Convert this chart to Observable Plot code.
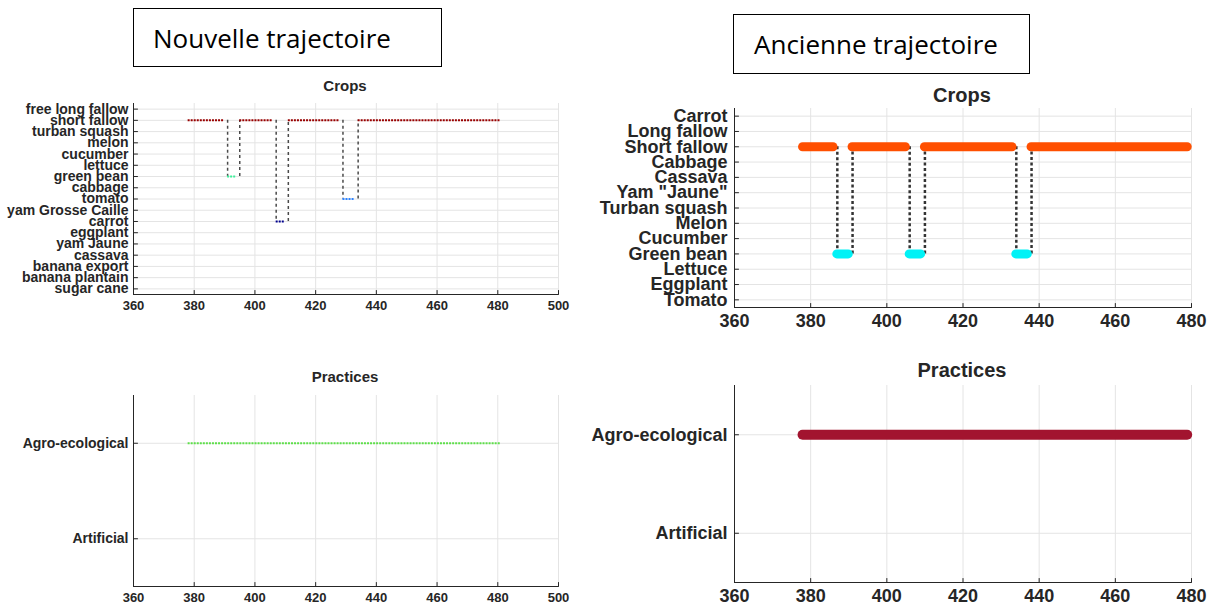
<!DOCTYPE html>
<html><head><meta charset="utf-8">
<script src="https://cdn.jsdelivr.net/npm/d3@7"></script>
<script src="https://cdn.jsdelivr.net/npm/@observablehq/plot@0.6"></script>
<style>
body{margin:0;background:#fff;}
#root{position:relative;width:1215px;height:608px;overflow:hidden;font-family:"Liberation Sans",Arial,sans-serif;}
.panel{position:absolute;}
.box{position:absolute;border:1.5px solid #000;box-sizing:border-box;font-family:"Open Sans",sans-serif;font-size:26px;color:#000;display:flex;align-items:center;white-space:nowrap;}
.title{position:absolute;font-weight:bold;color:#262626;transform:translate(-50%,-50%);white-space:nowrap;font-family:"Liberation Sans",Arial,sans-serif;}
</style></head><body><div id="root"></div>
<script>
// ---------- data ----------
const headerNew = "Nouvelle trajectoire";
const headerOld = "Ancienne trajectoire";
const titleCrops = "Crops";
const titlePractices = "Practices";

const xTicksNew = [360, 380, 400, 420, 440, 460, 480, 500];
const xTicksOld = [360, 380, 400, 420, 440, 460, 480];

// categories listed bottom -> top
const cropsNewCats = ["sugar cane", "banana plantain", "banana export", "cassava", "yam Jaune", "eggplant", "carrot", "yam Grosse Caille", "tomato", "cabbage", "green bean", "lettuce", "cucumber", "melon", "turban squash", "short fallow", "free long fallow"];
const cropsOldCats = ["Tomato", "Eggplant", "Lettuce", "Green bean", "Cucumber", "Melon", "Turban squash", "Yam \"Jaune\"", "Cassava", "Cabbage", "Short fallow", "Long fallow", "Carrot"];
const practicesNewCats = ["Artificial", "Agro-ecological"];
const practicesOldCats = ["Artificial", "Agro-ecological"];

// successive crop periods (first and last time step of each period)
const newCrop  = ["short fallow", "green bean", "short fallow", "carrot", "short fallow", "tomato", "short fallow"];
const newFirst = [378, 391, 395, 407, 411, 429, 434];
const newLast  = [390, 394, 406, 410, 428, 433, 481];

const oldCrop  = ["Short fallow", "Green bean", "Short fallow", "Green bean", "Short fallow", "Green bean", "Short fallow"];
const oldFirst = [378, 387, 391, 406, 410, 434, 438];
const oldLast  = [386, 390, 405, 409, 433, 437, 479];

const newPractice = ["Agro-ecological"];
const newPracticeFirst = [378];
const newPracticeLast = [481];

const oldPractice = ["Agro-ecological"];
const oldPracticeFirst = [378];
const oldPracticeLast = [479];

// ---------- styles ----------
const newCropColors = {domain: ["short fallow", "green bean", "carrot", "tomato"], range: ["#990000", "#3cf09a", "#00008c", "#2f84ff"]};
const oldCropColors = {domain: ["Short fallow", "Green bean"], range: ["#ff4f00", "#00f2f6"]};
const newPracticeColors = {domain: ["Agro-ecological", "Artificial"], range: ["#5ee04a", "#999999"]};
const oldPracticeColors = {domain: ["Agro-ecological", "Artificial"], range: ["#a2142f", "#999999"]};

const axisColor = "#262626";
const gridColor = "#e4e4e4";
const tickShape = {draw(ctx, l) { ctx.moveTo(0, 0); ctx.lineTo(0, -l); }};

function panel(cfg) {
  const n = cfg.cats.length;
  const idx = d3.range(1, n + 1);
  const yOf = c => cfg.cats.indexOf(c) + 1;
  const segs = cfg.crop.map((c, i) => ({crop: c, x1: cfg.first[i], x2: cfg.last[i], y: yOf(c)}));
  const trans = segs.slice(1).map((s, i) => ({x: s.x1, y1: segs[i].y, y2: s.y}));
  const x0 = cfg.xTicks[0];
  const xEnd = cfg.xTicks[cfg.xTicks.length - 1];
  return Plot.plot({
    width: cfg.width, height: cfg.height,
    marginLeft: cfg.marginLeft, marginRight: cfg.marginRight,
    marginTop: cfg.marginTop, marginBottom: cfg.marginBottom,
    style: {background: "transparent", fontFamily: "Liberation Sans, Arial, sans-serif", overflow: "visible"},
    x: {domain: [x0, xEnd]},
    y: {domain: [0.5, n + 0.5]},
    color: cfg.colors,
    marks: [
      Plot.ruleX(cfg.xTicks, {stroke: gridColor, strokeWidth: 1}),
      Plot.ruleY(idx, {stroke: gridColor, strokeWidth: 1}),
      Plot.ruleX([x0], {stroke: axisColor, strokeWidth: 1}),
      Plot.ruleY([0.5], {stroke: axisColor, strokeWidth: 1}),
      Plot.vector(cfg.xTicks, {x: d => d, y: 0.5, length: 4, rotate: 0, anchor: "start", shape: tickShape, stroke: axisColor, strokeWidth: 1}),
      Plot.vector(idx, {x: x0, y: d => d, length: 4, rotate: 90, anchor: "start", shape: tickShape, stroke: axisColor, strokeWidth: 1}),
      Plot.axisX(cfg.xTicks, {anchor: "bottom", tickSize: 0, tickPadding: cfg.xPad, fontSize: cfg.xFont, fontWeight: "bold", fill: axisColor, label: null}),
      Plot.axisY(idx, {anchor: "left", tickSize: 0, tickPadding: cfg.yPad, tickFormat: i => cfg.cats[i - 1], fontSize: cfg.yFont, fontWeight: "bold", fill: axisColor, label: null}),
      Plot.ruleX(trans, {x: "x", y1: "y1", y2: "y2", stroke: cfg.transColor, strokeWidth: cfg.transWidth, strokeDasharray: cfg.transDash}),
      Plot.ruleY(segs, {y: "y", x1: "x1", x2: "x2", stroke: "crop", strokeWidth: cfg.segWidth, strokeLinecap: cfg.segCap, strokeDasharray: cfg.segDash})
    ]
  });
}

const root = document.getElementById("root");
function place(node, left, top) {
  const d = document.createElement("div");
  d.className = "panel";
  d.style.left = left + "px";
  d.style.top = top + "px";
  d.appendChild(node);
  root.appendChild(d);
}
function addTitle(text, cx, cy, size) {
  const d = document.createElement("div");
  d.className = "title";
  d.textContent = text;
  d.style.left = cx + "px";
  d.style.top = cy + "px";
  d.style.fontSize = size + "px";
  root.appendChild(d);
}
function addBox(text, left, top, w, h, pad) {
  const d = document.createElement("div");
  d.className = "box";
  d.textContent = text;
  d.style.left = left + "px";
  d.style.top = top + "px";
  d.style.width = w + "px";
  d.style.height = h + "px";
  d.style.paddingLeft = pad + "px";
  root.appendChild(d);
}

const small = {xFont: 13, yFont: 14, xPad: 6, yPad: 5, transColor: "#4a4a4a", transWidth: 1.5, transDash: "3,3", segWidth: 2, segCap: "butt", segDash: "2,1.04"};
const big = {xFont: 18, yFont: 18, xPad: 7, yPad: 7, transColor: "#333333", transWidth: 2.5, transDash: "3,2.5", segWidth: 9, segCap: "round", segDash: null};

place(panel({...small, cats: cropsNewCats, crop: newCrop, first: newFirst, last: newLast, xTicks: xTicksNew, colors: newCropColors,
  width: 580, height: 245, marginLeft: 133, marginRight: 22, marginTop: 33, marginBottom: 21}), 0, 70);
place(panel({...small, cats: practicesNewCats, crop: newPractice, first: newPracticeFirst, last: newPracticeLast, xTicks: xTicksNew, colors: newPracticeColors,
  width: 580, height: 222, marginLeft: 133, marginRight: 22, marginTop: 10, marginBottom: 21}), 0, 385);
place(panel({...big, cats: cropsOldCats, crop: oldCrop, first: oldFirst, last: oldLast, xTicks: xTicksOld, colors: oldCropColors,
  width: 625, height: 232, marginLeft: 154, marginRight: 14, marginTop: 8, marginBottom: 25}), 580, 100);
place(panel({...big, cats: practicesOldCats, crop: oldPractice, first: oldPracticeFirst, last: oldPracticeLast, xTicks: xTicksOld, colors: oldPracticeColors, segWidth: 10,
  width: 625, height: 232, marginLeft: 154, marginRight: 14, marginTop: 10, marginBottom: 25}), 580, 375);

addTitle(titleCrops, 345, 85, 15);
addTitle(titlePractices, 345, 376, 15);
addTitle(titleCrops, 962, 95, 20);
addTitle(titlePractices, 962, 370, 20);

addBox(headerNew, 133, 8, 309, 59, 19);
addBox(headerOld, 733, 14, 297, 60, 20);
</script>
</body></html>
